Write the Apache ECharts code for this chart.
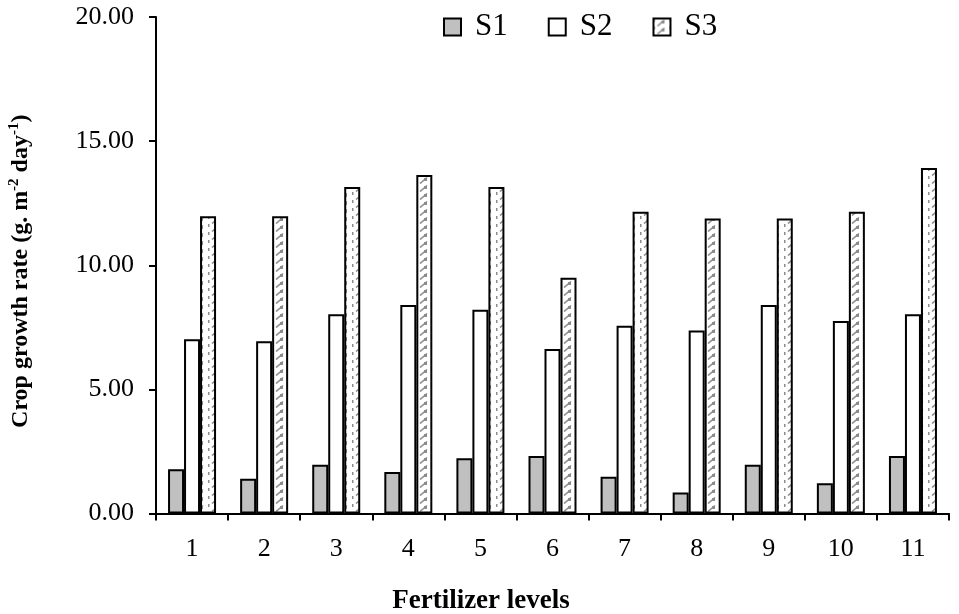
<!DOCTYPE html>
<html>
<head>
<meta charset="utf-8">
<script src="https://cdn.jsdelivr.net/npm/echarts@6/dist/echarts.min.js"></script>
<style>
html,body{margin:0;padding:0;background:#fff;}
#chart{width:959px;height:614px;}
</style>
</head>
<body>
<div id="chart"></div>
<script>
var categories = ['1','2','3','4','5','6','7','8','9','10','11'];
var seriesNames = ['S1','S2','S3'];
var s1 = [1.78, 1.40, 1.96, 1.67, 2.23, 2.32, 1.48, 0.85, 1.96, 1.22, 2.32];
var s2 = [7.02, 6.94, 8.03, 8.40, 8.21, 6.63, 7.56, 7.37, 8.40, 7.75, 8.03];
var s3 = [11.97, 11.97, 13.15, 13.64, 13.15, 9.50, 12.16, 11.88, 11.88, 12.16, 13.92];
var yTicks = [0, 5, 10, 15, 20];

var FONT = "'Liberation Serif','Times New Roman',serif";

function makePattern(){
  var c = document.createElement('canvas');
  c.width = 16; c.height = 8;
  var ctx = c.getContext('2d');
  ctx.fillStyle = '#ffffff';
  ctx.fillRect(0,0,16,8);
  ctx.strokeStyle = '#8c8c8c';
  ctx.lineWidth = 1.6;
  ctx.beginPath();
  ctx.moveTo(4,7.5); ctx.lineTo(11,1.5);
  ctx.stroke();
  ctx.fillStyle = '#8c8c8c';
  ctx.fillRect(8,2,3,3);
  ctx.fillRect(0,0,1.5,3);
  return c;
}
var pat = makePattern();

var chart = echarts.init(document.getElementById('chart'), null, {renderer:'canvas'});
var option = {
  animation: false,
  backgroundColor: '#ffffff',
  textStyle: {fontFamily: FONT, color: '#000'},
  grid: {left: 156, right: 10, top: 17, bottom: 100.5, containLabel: false, outerBoundsMode: 'none'},
  legend: {
    data: seriesNames,
    left: 438, top: 4,
    icon: 'rect',
    itemWidth: 17, itemHeight: 17,
    itemGap: 40,
    textStyle: {fontFamily: FONT, fontSize: 31, color: '#000', lineHeight: 34, padding: [2,0,0,9]}
  },
  xAxis: {
    type: 'category',
    data: categories,
    axisLine: {lineStyle: {color: '#000', width: 2}},
    axisTick: {show: true, inside: false, length: 7, lineStyle: {color: '#000', width: 2}},
    axisLabel: {color: '#000', fontFamily: FONT, fontSize: 26, margin: 23},
    splitLine: {show: false}
  },
  yAxis: {
    type: 'value',
    min: 0, max: 20, interval: 5,
    axisLine: {show: true, lineStyle: {color: '#000', width: 2}},
    axisTick: {show: true, inside: false, length: 7, lineStyle: {color: '#000', width: 2}},
    axisLabel: {color: '#000', fontFamily: FONT, fontSize: 26, margin: 22,
      formatter: function(v){ return yTicks.indexOf(v) >= 0 ? v.toFixed(2) : ''; }},
    splitLine: {show: false},
    name: '{b|Crop growth rate (g. m}{s|-2}{b| day}{s|-1}{b|)}',
    nameLocation: 'middle',
    nameGap: 121,
    nameRotate: 90,
    nameTextStyle: {
      padding: [0, 12, 0, 0],
      rich: {
        b: {fontFamily: FONT, fontSize: 24, fontWeight: 'bold', color: '#000', lineHeight: 28},
        s: {fontFamily: FONT, fontSize: 15, fontWeight: 'bold', color: '#000', verticalAlign: 'top', lineHeight: 28, padding: [0,0,9,0]}
      }
    }
  },
  graphic: [{
    type: 'text',
    x: 481, y: 601,
    style: {text: 'Fertilizer levels', font: 'bold 27px ' + FONT, fill: '#000', align: 'center', verticalAlign: 'middle'}
  }],
  series: [
    {name: 'S1', type: 'bar', data: s1, barWidth: 16, barGap: '0%',
     itemStyle: {color: '#c0c0c0', borderColor: '#000', borderWidth: 2}},
    {name: 'S2', type: 'bar', data: s2, barWidth: 16, barGap: '0%',
     itemStyle: {color: '#ffffff', borderColor: '#000', borderWidth: 2}},
    {name: 'S3', type: 'bar', data: s3, barWidth: 16, barGap: '0%',
     itemStyle: {color: {image: pat, repeat: 'repeat'}, borderColor: '#000', borderWidth: 2}}
  ]
};
chart.setOption(option);
</script>
</body>
</html>
